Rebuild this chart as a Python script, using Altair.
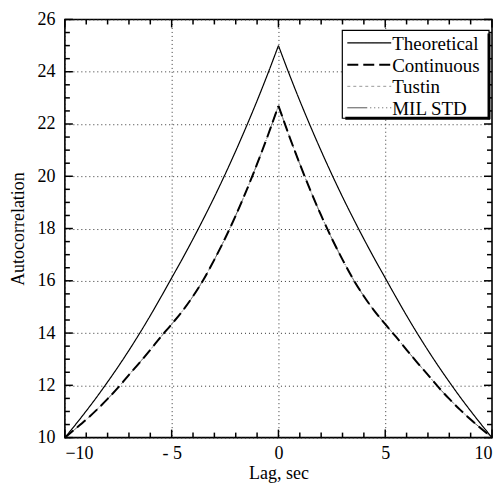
import altair as alt
import pandas as pd

# ---- data ----
lag = [-10, -9.5, -9, -8.5, -8, -7.5, -7, -6.5, -6, -5.5, -5, -4.5, -4, -3.5, -3, -2.5, -2, -1.5, -1, -0.5,
       0, 0.5, 1, 1.5, 2, 2.5, 3, 3.5, 4, 4.5, 5, 5.5, 6, 6.5, 7, 7.5, 8, 8.5, 9, 9.5, 10]

theoretical = [10.0, 10.5, 11.02, 11.56, 12.13, 12.72, 13.34, 13.99, 14.67, 15.38, 16.11, 16.84, 17.6,
               18.39, 19.21, 20.07, 20.97, 21.91, 22.89, 23.92,
               25.0, 23.92, 22.89, 21.91, 20.97, 20.07, 19.21, 18.39, 17.6, 16.84, 16.11, 15.38, 14.67,
               13.99, 13.34, 12.72, 12.13, 11.56, 11.02, 10.5, 10.0]

continuous = [10.0, 10.34, 10.69, 11.07, 11.48, 11.92, 12.4, 12.87, 13.36, 13.86, 14.34, 14.84, 15.41,
              16.06, 16.81, 17.62, 18.5, 19.45, 20.47, 21.55,
              22.7, 21.55, 20.47, 19.45, 18.5, 17.62, 16.81, 16.06, 15.41, 14.84, 14.34, 13.86, 13.36,
              12.87, 12.4, 11.92, 11.48, 11.07, 10.69, 10.34, 10.0]

tustin = list(continuous)
mil_std = list(continuous)

series_names = ["Theoretical", "Continuous", "Tustin", "MIL STD"]
series_values = [theoretical, continuous, tustin, mil_std]
series_colors = ["black", "black", "#9a9a9a", "#555555"]
series_dash = [[1, 0], [11, 5], [3, 3], [20, 3, 1, 3, 1, 3, 1, 3, 1, 3, 1, 3, 1, 3]]
series_width = [1.2, 2.0, 1.0, 1.0]

x_major = [-10, -5, 0, 5, 10]
x_minor = [-9, -8, -7, -6, -4, -3, -2, -1, 1, 2, 3, 4, 6, 7, 8, 9]
y_major = [10, 12, 14, 16, 18, 20, 22, 24, 26]
y_minor = [10.5, 11, 11.5, 12.5, 13, 13.5, 14.5, 15, 15.5, 16.5, 17, 17.5, 18.5, 19, 19.5,
           20.5, 21, 21.5, 22.5, 23, 23.5, 24.5, 25, 25.5]

W, H = 428, 419
FONT = "Liberation Serif"
TICK_COLOR = "black"

xscale = alt.Scale(domain=[-10, 10], nice=False, zero=False)
yscale = alt.Scale(domain=[10, 26], nice=False, zero=False)

xaxis = alt.Axis(values=x_major, title="Lag, sec", grid=True, gridDash=[1, 3], gridColor="#333",
                 tickSize=0, domain=False, labelPadding=7, labelFontSize=18, titleFontSize=18,
                 titleFontWeight="normal", titlePadding=2, labelColor="black", titleColor="black",
                 labelExpr="datum.value == -5 ? '- 5' : datum.label")
yaxis = alt.Axis(values=y_major, title="Autocorrelation", grid=True, gridDash=[1, 3], gridColor="#333",
                 tickSize=0, domain=False, labelPadding=10, labelFontSize=18, titleFontSize=18,
                 titleFontWeight="normal", titlePadding=9, labelColor="black", titleColor="black")


def series_layer(i):
    rows = []
    for x, v in zip(lag, series_values[i]):
        if x <= 0:
            rows.append({"lag": x, "value": v, "side": "L"})
        if x >= 0:
            rows.append({"lag": x, "value": v, "side": "R"})
    d = pd.DataFrame(rows)
    return alt.Chart(d).mark_line(
        interpolate="monotone", color=series_colors[i], strokeDash=series_dash[i],
        strokeWidth=series_width[i]).encode(
        x=alt.X("lag:Q", scale=xscale, axis=xaxis),
        y=alt.Y("value:Q", scale=yscale, axis=yaxis),
        detail="side:N")


# tick marks drawn inside the frame on all four sides
def x_tick_layers(vals, length):
    d = pd.DataFrame({"lag": vals})
    return [
        alt.Chart(d).mark_rule(color=TICK_COLOR, strokeWidth=1.5).encode(
            x=alt.X("lag:Q", scale=xscale, axis=xaxis), y=alt.value(H), y2=alt.value(H - length)),
        alt.Chart(d).mark_rule(color=TICK_COLOR, strokeWidth=1.5).encode(
            x=alt.X("lag:Q", scale=xscale, axis=xaxis), y=alt.value(0), y2=alt.value(length)),
    ]


def y_tick_layers(vals, length):
    d = pd.DataFrame({"value": vals})
    return [
        alt.Chart(d).mark_rule(color=TICK_COLOR, strokeWidth=1.5).encode(
            y=alt.Y("value:Q", scale=yscale, axis=yaxis), x=alt.value(0), x2=alt.value(length)),
        alt.Chart(d).mark_rule(color=TICK_COLOR, strokeWidth=1.5).encode(
            y=alt.Y("value:Q", scale=yscale, axis=yaxis), x=alt.value(W), x2=alt.value(W - length)),
    ]


tick_layers = (x_tick_layers(x_major, 8) + x_tick_layers(x_minor, 5)
               + y_tick_layers(y_major, 8) + y_tick_layers(y_minor, 5))

one = pd.DataFrame({"k": [0]})
LX0, LX1, LY0, LY1 = 278, 425, 11, 99
row_y = [23.5, 45.5, 67, 88.5]

legend_layers = [
    alt.Chart(one).mark_rect(fill="white", stroke="black", strokeWidth=1.2).encode(
        x=alt.value(LX0), x2=alt.value(LX1), y=alt.value(LY0), y2=alt.value(LY1)),
    alt.Chart(one).mark_rule(color="black", strokeWidth=3).encode(
        x=alt.value(LX1), y=alt.value(LY0 + 3), y2=alt.value(LY1 + 1)),
    alt.Chart(one).mark_rule(color="black", strokeWidth=3).encode(
        x=alt.value(LX0 + 3), x2=alt.value(LX1 + 1), y=alt.value(LY1)),
]
for i, name in enumerate(series_names):
    legend_layers.append(
        alt.Chart(one).mark_rule(color=series_colors[i], strokeDash=series_dash[i],
                                 strokeWidth=series_width[i]).encode(
            x=alt.value(LX0 + 5), x2=alt.value(LX0 + 49), y=alt.value(row_y[i])))
    legend_layers.append(
        alt.Chart(one).mark_text(align="left", baseline="middle", font=FONT, fontSize=19,
                                 color="black").encode(
            x=alt.value(LX0 + 50), y=alt.value(row_y[i] + 1), text=alt.value(name)))

chart = alt.layer(
    *tick_layers,
    series_layer(3), series_layer(2), series_layer(1), series_layer(0),
    *legend_layers,
).properties(
    width=W, height=H,
    padding={"left": 2, "top": 2, "right": 0, "bottom": 0},
).configure(font=FONT).configure_view(stroke="black", strokeWidth=1.6)

chart.save("out.html", embed_options={"renderer": "svg", "actions": False})
